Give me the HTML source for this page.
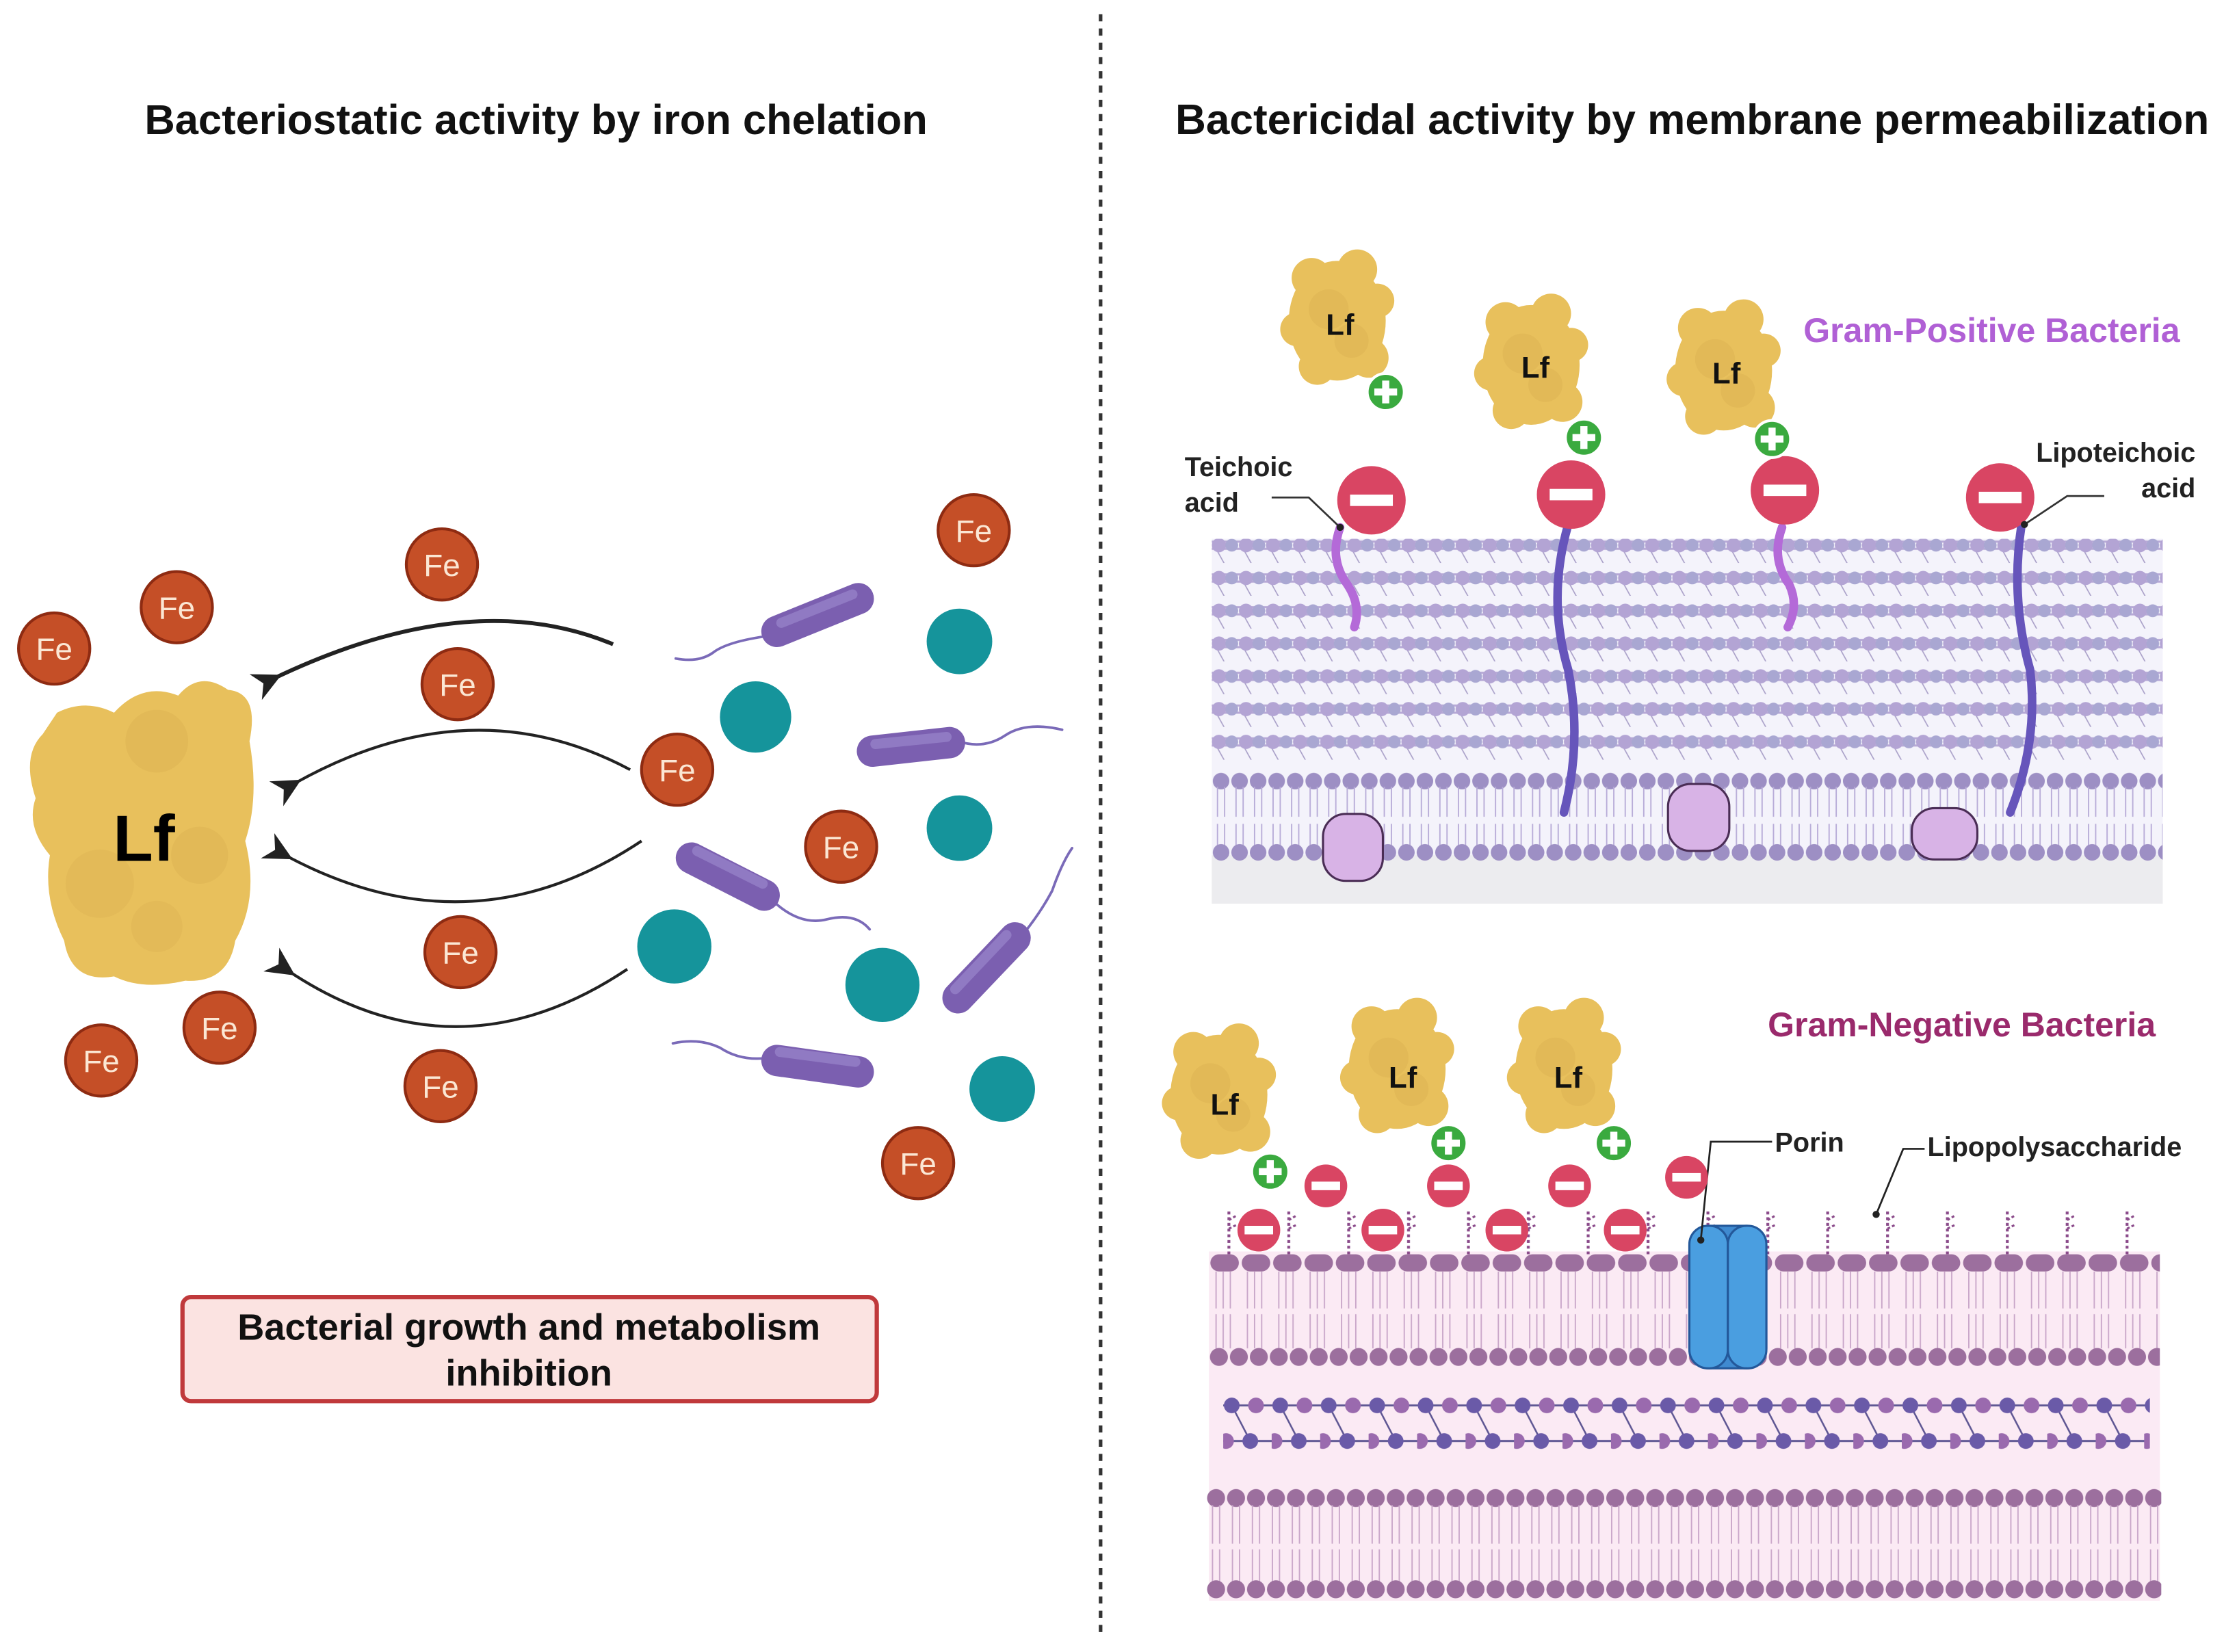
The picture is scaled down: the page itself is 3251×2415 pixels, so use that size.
<!DOCTYPE html>
<html><head><meta charset="utf-8"><style>
html,body{margin:0;padding:0;background:#fff}
svg{display:block}
text{font-family:"Liberation Sans",Arial,sans-serif}
</style></head><body>
<svg width="3251" height="2415" viewBox="0 0 1560 1159" preserveAspectRatio="none" xmlns="http://www.w3.org/2000/svg">
<defs>
  <pattern id="pg" x="850" y="372" width="19" height="23" patternUnits="userSpaceOnUse">
    <line x1="0" y1="8" x2="19" y2="8" stroke="#b7a9d6" stroke-width="1.5"/>
    <line x1="0" y1="13" x2="19" y2="13" stroke="#b7a9d6" stroke-width="1.5"/>
    <line x1="3" y1="13" x2="13" y2="31" stroke="#a9a0c8" stroke-width="0.8"/>
    <circle cx="5" cy="10.5" r="5" fill="#b3a4d4"/>
    <circle cx="14" cy="10.5" r="4.5" fill="#a9a7d2"/>
  </pattern>
  <pattern id="bl1" x="850" y="540" width="13" height="70" patternUnits="userSpaceOnUse">
    <circle cx="6.5" cy="8" r="5.8" fill="#9d8fc4"/>
    <path d="M4 12 L4 33 M9 12 L9 33 M4 38 L4 56 M9 38 L9 56" stroke="#b8acd8" stroke-width="0.9"/>
    <circle cx="6.5" cy="58" r="5.8" fill="#9d8fc4"/>
  </pattern>
  <pattern id="om" x="848" y="878" width="22" height="82" patternUnits="userSpaceOnUse">
    <rect x="1" y="2" width="20" height="12" rx="6" fill="#9c6f9e"/>
    <path d="M5 14 L5 40 M10 14 L10 40 M15 14 L15 40 M5 44 L5 68 M10 44 L10 68 M15 44 L15 68" stroke="#c9a6c9" stroke-width="0.9"/>
  </pattern>
  <pattern id="omh" x="848" y="945" width="14" height="20" patternUnits="userSpaceOnUse">
    <circle cx="7" cy="7" r="6.3" fill="#9c6f9e"/>
  </pattern>
  <pattern id="im" x="846" y="1043" width="14" height="80" patternUnits="userSpaceOnUse">
    <circle cx="7" cy="8" r="6.3" fill="#9c6f9e"/>
    <path d="M4.5 13 L4.5 40 M9.5 13 L9.5 40 M4.5 44 L4.5 68 M9.5 44 L9.5 68" stroke="#c9a6c9" stroke-width="0.9"/>
    <circle cx="7" cy="72" r="6.3" fill="#9c6f9e"/>
  </pattern>
  <pattern id="npg" x="858" y="978" width="34" height="40" patternUnits="userSpaceOnUse">
    <line x1="0" y1="8" x2="34" y2="8" stroke="#5d5592" stroke-width="1.4"/>
    <line x1="0" y1="33" x2="34" y2="33" stroke="#5d5592" stroke-width="1.4"/>
    <line x1="6" y1="8" x2="19" y2="33" stroke="#5d5592" stroke-width="1.2"/>
    <circle cx="6" cy="8" r="5.5" fill="#6a5aa8"/><circle cx="23" cy="8" r="5.5" fill="#9a6aae"/>
    <circle cx="2" cy="33" r="5.5" fill="#9a6aae"/><circle cx="19" cy="33" r="5.5" fill="#6a5aa8"/>
  </pattern>
  <pattern id="lps" x="860" y="828" width="42" height="60" patternUnits="userSpaceOnUse">
    <line x1="2" y1="22" x2="2" y2="56" stroke="#8a4a8a" stroke-width="2" stroke-dasharray="2 2"/>
    <path d="M2 34 L8 31 M2 28 L7 25" stroke="#8a4a8a" stroke-width="1.5" stroke-dasharray="2 1.5"/>
  </pattern>
  <marker id="ah" viewBox="0 0 10 10" refX="3" refY="5" markerWidth="20" markerHeight="20" markerUnits="userSpaceOnUse" orient="auto-start-reverse">
    <path d="M10 0 L0 5 L10 10 L7 5 Z" fill="#222"/>
  </marker>
  <g id="blob">
    <ellipse cx="0" cy="0" rx="34" ry="42" fill="#e8c05c"/>
    <circle cx="-18" cy="-30" r="14" fill="#e8c05c"/><circle cx="14" cy="-36" r="14" fill="#e8c05c"/>
    <circle cx="28" cy="-14" r="12" fill="#e8c05c"/><circle cx="-28" cy="6" r="12" fill="#e8c05c"/>
    <circle cx="22" cy="26" r="14" fill="#e8c05c"/><circle cx="-14" cy="32" r="13" fill="#e8c05c"/>
    <circle cx="-6" cy="-8" r="14" fill="#dcb152" opacity=".5"/><circle cx="10" cy="14" r="12" fill="#dcb152" opacity=".5"/>
  </g>
  <g id="plus"><circle r="13" fill="#3aaa3f" stroke="#fff" stroke-width="2"/><rect x="-8" y="-2.5" width="16" height="5" fill="#fff"/><rect x="-2.5" y="-8" width="5" height="16" fill="#fff"/></g>
  <g id="minus"><circle r="24" fill="#d94563"/><rect x="-15" y="-4" width="30" height="8" fill="#fff"/></g>
  <g id="mins"><circle r="15" fill="#d94563"/><rect x="-10" y="-3" width="20" height="6" fill="#fff"/></g>
  <g id="fe"><circle r="25" fill="#c54f27" stroke="#8e2b12" stroke-width="2"/></g>
</defs>

<line x1="772" y1="10" x2="772" y2="1150" stroke="#333" stroke-width="2.5" stroke-dasharray="5 5"/>

<text x="376" y="94" text-anchor="middle" font-size="29.5" font-weight="bold" fill="#111">Bacteriostatic activity by iron chelation</text>
<text x="1187" y="94" text-anchor="middle" font-size="29.8" font-weight="bold" fill="#111">Bactericidal activity by membrane permeabilization</text>

<g fill="#e8c05c">
  <path d="M40 500 Q60 490 80 500 Q100 478 125 488 Q140 470 160 484 Q182 486 175 520 Q182 560 172 590 Q182 630 165 660 Q160 690 130 688 Q100 695 80 685 Q50 690 45 660 Q30 630 35 600 Q18 580 25 560 Q15 530 30 515 Z"/>
  <circle cx="110" cy="520" r="22" fill="#dcb152" opacity=".5"/><circle cx="70" cy="620" r="24" fill="#dcb152" opacity=".4"/><circle cx="140" cy="600" r="20" fill="#dcb152" opacity=".5"/><circle cx="110" cy="650" r="18" fill="#dcb152" opacity=".4"/>
</g>
<text x="101" y="604" text-anchor="middle" font-size="46" font-weight="bold" fill="#000">Lf</text>

<g fill="none" stroke="#222" stroke-width="2.5" marker-end="url(#ah)">
  <path d="M430 452 Q330 410 192 476" stroke-width="2.8"/>
  <path d="M442 540 Q330 480 206 550" stroke-width="2"/>
  <path d="M450 590 Q330 670 200 600" stroke-width="2"/>
  <path d="M440 680 Q320 760 202 681" stroke-width="2"/>
</g>

<g font-size="22" fill="#fbe7d4" text-anchor="middle">
  <use href="#fe" x="38" y="455"/><text x="38" y="463">Fe</text>
  <use href="#fe" x="124" y="426"/><text x="124" y="434">Fe</text>
  <use href="#fe" x="310" y="396"/><text x="310" y="404">Fe</text>
  <use href="#fe" x="321" y="480"/><text x="321" y="488">Fe</text>
  <use href="#fe" x="475" y="540"/><text x="475" y="548">Fe</text>
  <use href="#fe" x="590" y="594"/><text x="590" y="602">Fe</text>
  <use href="#fe" x="323" y="668"/><text x="323" y="676">Fe</text>
  <use href="#fe" x="154" y="721"/><text x="154" y="729">Fe</text>
  <use href="#fe" x="71" y="744"/><text x="71" y="752">Fe</text>
  <use href="#fe" x="309" y="762"/><text x="309" y="770">Fe</text>
  <use href="#fe" x="683" y="372"/><text x="683" y="380">Fe</text>
  <use href="#fe" x="644" y="816"/><text x="644" y="824">Fe</text>
</g>

<g fill="#15949b">
  <circle cx="673" cy="450" r="23"/><circle cx="530" cy="503" r="25"/><circle cx="673" cy="581" r="23"/>
  <circle cx="473" cy="664" r="26"/><circle cx="619" cy="691" r="26"/><circle cx="703" cy="764" r="23"/>
</g>
<g stroke-linecap="round">
  <g fill="none" stroke="#7a6ab8" stroke-width="1.8">
    <path d="M540 446 Q510 450 500 458 Q490 465 474 462"/>
    <path d="M672 520 Q690 526 705 516 Q720 506 745 512"/>
    <path d="M540 630 Q560 650 580 645 Q600 640 610 652"/>
    <path d="M718 655 Q730 640 738 625 Q745 605 752 595"/>
    <path d="M540 742 Q520 745 505 735 Q490 728 472 732"/>
  </g>
  <g stroke="#7b5fb0" stroke-width="22">
    <line x1="545" y1="443" x2="602" y2="420"/>
    <line x1="612" y1="527" x2="666" y2="521"/>
    <line x1="485" y1="602" x2="536" y2="628"/>
    <line x1="672" y1="700" x2="712" y2="658"/>
    <line x1="545" y1="744" x2="602" y2="752"/>
  </g>
  <g stroke="#9a86cc" stroke-width="7" opacity=".7">
    <line x1="548" y1="437" x2="598" y2="417"/>
    <line x1="614" y1="522" x2="664" y2="517"/>
    <line x1="489" y1="597" x2="535" y2="620"/>
    <line x1="670" y1="694" x2="706" y2="656"/>
    <line x1="547" y1="738" x2="600" y2="745"/>
  </g>
</g>

<rect x="128" y="910" width="487" height="73" rx="6" fill="#fbe3e1" stroke="#c0393b" stroke-width="3"/>
<text x="371" y="940" text-anchor="middle" font-size="26" font-weight="bold" fill="#111">Bacterial growth and metabolism</text>
<text x="371" y="972" text-anchor="middle" font-size="26" font-weight="bold" fill="#111">inhibition</text>

<rect x="850" y="378" width="667" height="256" fill="#f4f3fb"/>
<rect x="850" y="600" width="667" height="34" fill="#ececef"/>
<rect x="850" y="378" width="667" height="160" fill="url(#pg)"/>
<rect x="850" y="540" width="667" height="66" fill="url(#bl1)"/>
<path d="M940 370 Q932 392 945 410 Q955 425 950 440" fill="none" stroke="#b46ad8" stroke-width="6" stroke-linecap="round"/>
<path d="M1250 370 Q1242 392 1255 410 Q1262 425 1254 440" fill="none" stroke="#b46ad8" stroke-width="6" stroke-linecap="round"/>
<path d="M1100 368 Q1085 420 1100 470 Q1110 520 1097 570" fill="none" stroke="#6655bb" stroke-width="6" stroke-linecap="round"/>
<path d="M1418 368 Q1410 420 1424 470 Q1430 520 1410 570" fill="none" stroke="#6655bb" stroke-width="6" stroke-linecap="round"/>
<g fill="#d8b3e6" stroke="#4a2d55" stroke-width="1.5">
  <rect x="928" y="571" width="42" height="47" rx="16"/>
  <rect x="1170" y="550" width="43" height="47" rx="16"/>
  <rect x="1341" y="567" width="46" height="36" rx="16"/>
</g>
<use href="#minus" x="962" y="351"/><use href="#minus" x="1102" y="347"/><use href="#minus" x="1252" y="344"/><use href="#minus" x="1403" y="349"/>
<use href="#blob" x="938" y="225"/><use href="#blob" x="1074" y="256"/><use href="#blob" x="1209" y="260"/>
<g font-size="21" font-weight="bold" fill="#111" text-anchor="middle">
  <text x="940" y="235">Lf</text><text x="1077" y="265">Lf</text><text x="1211" y="269">Lf</text>
</g>
<use href="#plus" x="972" y="275"/><use href="#plus" x="1111" y="307"/><use href="#plus" x="1243" y="308"/>
<g font-size="19" font-weight="bold" fill="#222">
  <text x="831" y="334">Teichoic</text><text x="831" y="359">acid</text>
  <text x="1540" y="324" text-anchor="end">Lipoteichoic</text><text x="1540" y="349" text-anchor="end">acid</text>
</g>
<path d="M892 349 L918 349 L940 370" fill="none" stroke="#333" stroke-width="1.3"/><circle cx="940" cy="370" r="2.5" fill="#222"/>
<path d="M1476 348 L1450 348 L1420 368" fill="none" stroke="#333" stroke-width="1.3"/><circle cx="1420" cy="368" r="2.5" fill="#222"/>
<text x="1265" y="240" font-size="24" font-weight="bold" fill="#b060d5">Gram-Positive Bacteria</text>

<rect x="848" y="878" width="667" height="245" fill="#fbeaf4"/>
<rect x="848" y="878" width="667" height="82" fill="url(#om)"/>
<rect x="848" y="945" width="667" height="14" fill="url(#omh)"/>
<rect x="858" y="978" width="650" height="40" fill="url(#npg)"/>
<rect x="846" y="1043" width="670" height="80" fill="url(#im)"/>
<rect x="860" y="828" width="660" height="52" fill="url(#lps)"/>
<rect x="1185" y="860" width="54" height="100" rx="14" fill="#3f8ad0" stroke="#23589a" stroke-width="1.5"/>
<rect x="1185" y="860" width="27" height="100" rx="13" fill="#4a9ee0" stroke="#23589a" stroke-width="1.5"/>
<rect x="1212" y="860" width="27" height="100" rx="13" fill="#4a9ee0" stroke="#23589a" stroke-width="1.5"/>
<path d="M1243 801 L1200 801 L1193 870" fill="none" stroke="#222" stroke-width="1.3"/><circle cx="1193" cy="870" r="2.5" fill="#222"/>
<path d="M1350 806 L1335 806 L1316 852" fill="none" stroke="#222" stroke-width="1.3"/><circle cx="1316" cy="852" r="2.5" fill="#222"/>
<use href="#mins" x="883" y="863"/><use href="#mins" x="930" y="832"/><use href="#mins" x="970" y="863"/><use href="#mins" x="1016" y="832"/>
<use href="#mins" x="1057" y="863"/><use href="#mins" x="1101" y="832"/><use href="#mins" x="1140" y="863"/><use href="#mins" x="1183" y="826"/>
<use href="#blob" x="855" y="768"/><use href="#blob" x="980" y="750"/><use href="#blob" x="1097" y="750"/>
<g font-size="21" font-weight="bold" fill="#111" text-anchor="middle">
  <text x="859" y="782">Lf</text><text x="984" y="763">Lf</text><text x="1100" y="763">Lf</text>
</g>
<use href="#plus" x="891" y="822"/><use href="#plus" x="1016" y="802"/><use href="#plus" x="1132" y="802"/>
<text x="1240" y="727" font-size="24" font-weight="bold" fill="#9a2a6c">Gram-Negative Bacteria</text>
<g font-size="19" font-weight="bold" fill="#222">
  <text x="1245" y="808">Porin</text><text x="1352" y="811">Lipopolysaccharide</text>
</g>
</svg>
</body></html>
